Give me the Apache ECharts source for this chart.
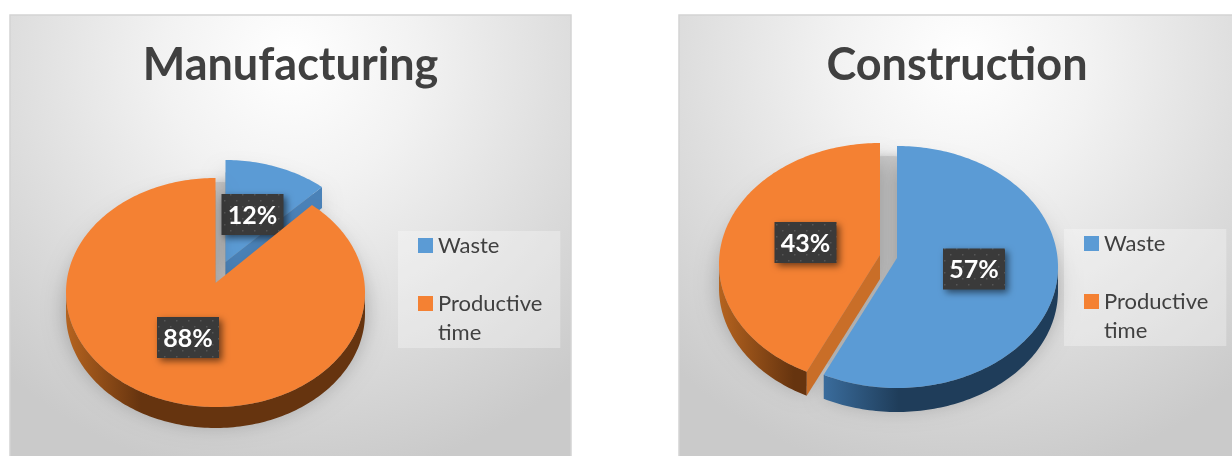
<!DOCTYPE html>
<html><head><meta charset="utf-8">
<style>html,body{margin:0;padding:0;background:#fff}#c{width:1232px;height:456px}</style>
<script src="https://cdn.jsdelivr.net/npm/echarts@6/dist/echarts.min.js"></script>
</head><body><div id="c"></div>
<script>
// ---- data ----
const panels = ['Manufacturing', 'Construction'];
const categories = ['Waste', 'Productive time'];
const wasteValues = [12, 57];
const productiveValues = [88, 43];

// ---- layout (no data) ----
const FONT = 'Lato, "Open Sans", sans-serif';
const look = [
  { rx:149.5, ry:114.5, depth:21, rect:[10,15,561,445], titleX:285.5, legendX:398, legendY:231,
    gap:{cx:220,cy:285},
    slices:[ {cx:225.5,cy:274.5,apexDy:-12.5,lx:27,ly:-60},
             {cx:215.5,cy:292.5,apexDy:-9.5,lx:-27.5,ly:45} ] },
  { rx:161, ry:121, depth:24, rect:[679,15,570,445], titleX:952, legendX:1064, legendY:229,
    gap:{cx:888,cy:265},
    slices:[ {cx:897,cy:267,apexDy:-9,lx:77,ly:2},
             {cx:880,cy:264,apexDy:-9,lx:-74.5,ly:-21.5} ] }
];
const tones = [
  { top:'#5B9BD5', wall:'#4A82B8', rimA:'#3A6C9C', rimB:'#1F3D5A' },
  { top:'#F48133', wall:'#C96E28', rimA:'#B5631F', rimB:'#66340F' }
];

// perspective warp of the true slice angle
const warp = t => t - 4.4 * Math.PI / 180 * Math.sin(t);
const edge = (s, L, t) => { const w = warp(t); return [s.cx + L.rx * Math.sin(w), s.cy - L.ry * Math.cos(w)]; };

// dotted label texture
const tex = document.createElement('canvas'); tex.width = 12; tex.height = 12;
(function () {
  const g = tex.getContext('2d');
  g.fillStyle = '#3A3A3A'; g.fillRect(0,0,12,12);
  g.fillStyle = '#565656';
  g.fillRect(2,2,1.5,1.5); g.fillRect(8,8,1.5,1.5);
})();

function slicePoints(s, L, a0, a1) {
  const n = Math.max(4, Math.ceil((a1 - a0) / 0.02)), arc = [];
  for (let i = 0; i <= n; i++) arc.push(edge(s, L, a0 + (a1 - a0) * i / n));
  return arc;
}

function renderer(p, k) {
  const L = look[p], s = L.slices[k], tone = tones[k];
  const vals = [wasteValues[p], productiveValues[p]];
  const total = vals[0] + vals[1];
  const before = k === 0 ? 0 : vals[0];
  return function (params, api) {
    const v = api.value(0);
    const a0 = before / total * 2 * Math.PI, a1 = (before + v) / total * 2 * Math.PI;
    const apex = [s.cx, s.cy + s.apexDy];
    const arc = slicePoints(s, L, a0, a1);
    const top = [apex].concat(arc);
    const down = q => [q[0], q[1] + L.depth];
    const kids = [];
    // grey shade seen in the gap between the exploded slices
    if (k === 0) kids.push({ type:'ellipse', shape:{ cx:L.gap.cx, cy:L.gap.cy, rx:L.rx * 0.9, ry:L.ry * 0.9 }, z2:0,
      style:{ fill:'#CACACA', shadowBlur:10, shadowColor:'#CACACA' } });
    // soft shadow below the whole slice
    kids.push({ type:'polygon', shape:{ points: top.map(q => [q[0], q[1] + L.depth * 0.6]) }, z2:1,
      style:{ fill:'rgba(120,120,120,0.55)', shadowBlur:22, shadowColor:'rgba(0,0,0,0.5)', shadowOffsetY:4 } });
    // outer rim: only the front half of the arc
    const front = arc.filter((q, i) => { const t = warp(a0 + (a1 - a0) * i / (arc.length - 1)); return Math.cos(t) <= 0.02; });
    if (front.length > 1) {
      const xs = front.map(q => q[0]);
      const span = Math.max.apply(null, xs) - Math.min.apply(null, xs);
      kids.push({ type:'polygon', shape:{ points: front.concat(front.slice().reverse().map(down)) }, z2:2,
        style:{ fill:{ type:'linear', x:0, y:0, x2:1, y2:0, colorStops:[
          {offset:0, color:tone.rimA},{offset:Math.min(1, 75 / span), color:tone.rimB},{offset:1, color:tone.rimB}] } } });
    }
    // cut wall that faces the viewer
    const cut = k === 0 && p === 0 ? arc[arc.length - 1] : (k === 1 && p === 1 ? arc[0] : null);
    if (cut) kids.push({ type:'polygon', shape:{ points:[apex, cut, down(cut), down(apex)] }, z2:3, style:{ fill:tone.wall } });
    // top face
    kids.push({ type:'polygon', shape:{ points: top }, z2:4, style:{ fill:tone.top } });
    // percentage label
    const w = 62, h = 41, x = s.cx + s.lx, y = s.cy + s.ly;
    kids.push({ type:'rect', shape:{ x:x - w/2, y:y - h/2, width:w, height:h }, z2:100,
      style:{ fill:{ image:tex, repeat:'repeat' }, shadowBlur:7, shadowOffsetX:3, shadowOffsetY:3, shadowColor:'rgba(0,0,0,0.55)' } });
    kids.push({ type:'text', z2:101, style:{ text: Math.round(v / total * 100) + '%', x:x, y:y + 1, align:'center', verticalAlign:'middle',
      fill:'#fff', font:'bold 25px ' + FONT } });
    return { type:'group', children:kids };
  };
}

const series = [];
panels.forEach((_, p) => {
  [1, 0].forEach(k => {
    series.push({ type:'custom', coordinateSystem:'none', name:categories[k], silent:true, animation:false,
      z: p === 0 ? (k === 0 ? 2 : 3) : 2,
      itemStyle:{ color: k === 0 ? '#5B9BD5' : '#F48133' },
      data:[[k === 0 ? wasteValues[p] : productiveValues[p]]],
      renderItem: renderer(p, k) });
  });
});

const option = {
  animation:false,
  backgroundColor:'#fff',
  title: panels.map((t, p) => ({ text:t, left:look[p].titleX, top:38, textAlign:'center',
    textStyle:{ fontFamily:FONT, fontWeight:'bold', fontSize:45, color:'#404040' } })),
  legend: panels.map((t, p) => ({ data:categories, left:look[p].legendX, top:look[p].legendY, orient:'vertical',
    selectedMode:false, icon:'rect', itemWidth:15, itemHeight:15, itemGap:0,
    padding:[0,18,1,20], backgroundColor:'rgba(255,255,255,0.3)', z:5,
    formatter: n => n.indexOf(' ') > 0 ? '\n' + n.replace(' ', '\n') : n,
    textStyle:{ fontFamily:FONT, fontSize:22, color:'#404040', lineHeight:29 } })),
  graphic: look.map(L => ({ type:'rect', silent:true, z:0,
    shape:{ x:L.rect[0], y:L.rect[1], width:L.rect[2], height:L.rect[3] },
    style:{ stroke:'#D4D4D4', lineWidth:1.5,
      fill:{ type:'radial', x:0.5, y:0.1, r:0.95, colorStops:[
        {offset:0, color:'#FFFFFF'},{offset:0.3, color:'#F2F2F2'},{offset:1, color:'#CACACA'}] } } })),
  series
};
echarts.init(document.getElementById('c')).setOption(option);
</script></body></html>
